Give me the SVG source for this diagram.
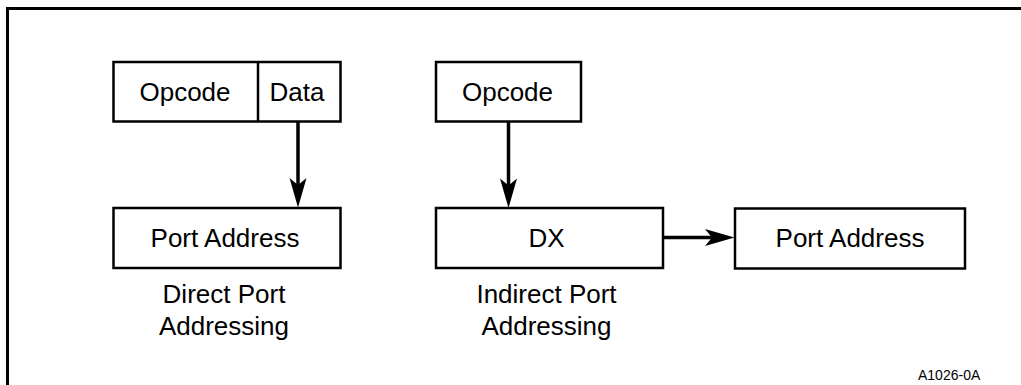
<svg xmlns="http://www.w3.org/2000/svg" width="1021" height="385" viewBox="0 0 1021 385">
  <style>
    .box { fill: #ffffff; stroke: #000000; stroke-width: 2.5; }
    .lbl { font-family: "Liberation Sans", Arial, sans-serif; font-size: 26px; fill: #000000; text-anchor: middle; }
    .small { font-family: "Liberation Sans", Arial, sans-serif; font-size: 14px; fill: #000000; }
    .conn { stroke: #000000; stroke-width: 3.5; fill: none; marker-end: url(#arrow); }
  </style>
  <defs>
    <marker id="arrow" markerUnits="userSpaceOnUse" markerWidth="40" markerHeight="40" refX="0" refY="0" orient="auto" overflow="visible">
      <path d="M22.5,0 L-7,-8.5 L0,0 L-7,8.5 Z" fill="#000000"/>
    </marker>
  </defs>
  <rect width="1021" height="385" fill="#ffffff"/>
  <path d="M7.5,385 V8.5 H1021" fill="none" stroke="#000000" stroke-width="3"/>

  <g id="direct-opcode-data">
    <rect class="box" x="113.5" y="62" width="227" height="59.5"/>
    <line x1="258" y1="62" x2="258" y2="121.5" stroke="#000000" stroke-width="2.5"/>
    <text class="lbl" x="185" y="101">Opcode</text>
    <text class="lbl" x="297" y="101">Data</text>
  </g>
  <g id="direct-port-address">
    <rect class="box" x="113.5" y="208" width="227" height="60"/>
    <text class="lbl" x="225" y="247">Port Address</text>
  </g>
  <g id="direct-caption">
    <text class="lbl" x="224" y="303">Direct Port</text>
    <text class="lbl" x="224" y="335">Addressing</text>
  </g>

  <g id="indirect-opcode">
    <rect class="box" x="436" y="62" width="145" height="59.5"/>
    <text class="lbl" x="507.5" y="101">Opcode</text>
  </g>
  <g id="dx">
    <rect class="box" x="436" y="208" width="227" height="60"/>
    <text class="lbl" x="546.5" y="247">DX</text>
  </g>
  <g id="indirect-caption">
    <text class="lbl" x="546.5" y="303">Indirect Port</text>
    <text class="lbl" x="546.5" y="335">Addressing</text>
  </g>
  <g id="indirect-port-address">
    <rect class="box" x="735" y="208.5" width="230" height="60"/>
    <text class="lbl" x="850" y="247">Port Address</text>
  </g>

  <g id="connectors">
    <line class="conn" x1="298" y1="121.5" x2="298" y2="185"/>
    <line class="conn" x1="508.5" y1="121.5" x2="508.5" y2="185.5"/>
    <line class="conn" x1="663" y1="237.5" x2="712" y2="237.5"/>
  </g>

  <text class="small" x="918" y="379.5">A1026-0A</text>
</svg>
